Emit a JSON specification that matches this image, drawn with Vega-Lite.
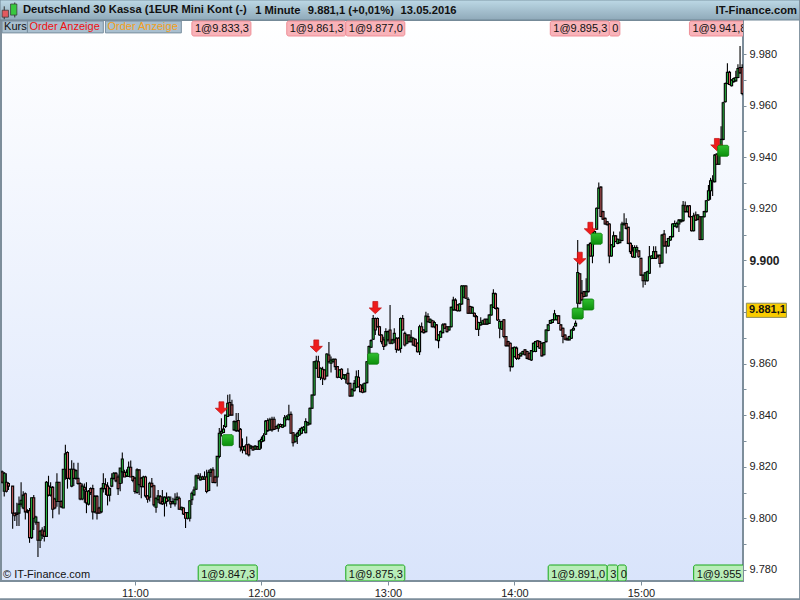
{"$schema":"https://vega.github.io/schema/vega-lite/v6.json","width":742,"height":561,"autosize":"none","padding":{"left":1,"top":20,"right":57,"bottom":19},"background":"#ffffff",
"view":{"stroke":"#7d8e9b","strokeWidth":2,"fill":{"gradient":"linear","x1":0,"y1":0,"x2":0,"y2":1,"stops":[{"offset":0,"color":"#ffffff"},{"offset":1,"color":"#d9e4fb"}]}},
"title":{"text":"Deutschland 30 Kassa (1EUR Mini Kont (-)","anchor":"start","frame":"group","dx":22,"dy":16,"offset":0,"zindex":1,"font":"Liberation Sans","fontSize":11.2,"fontWeight":"bold","color":"#111111"},
"config":{"font":"Liberation Sans"},
"encoding":{"x":{"field":"t","type":"temporal","title":null,"scale":{"type":"utc","nice":false,"padding":0,"domain":[{"year":1900,"month":1,"date":1,"hours":9,"minutes":56,"seconds":28,"utc":true},{"year":1900,"month":1,"date":1,"hours":15,"minutes":48,"seconds":24,"utc":true}]},"axis":{"values":[{"year":1900,"month":1,"date":1,"hours":11,"utc":true},{"year":1900,"month":1,"date":1,"hours":12,"utc":true},{"year":1900,"month":1,"date":1,"hours":13,"utc":true},{"year":1900,"month":1,"date":1,"hours":14,"utc":true},{"year":1900,"month":1,"date":1,"hours":15,"utc":true}],"labelExpr":"utcFormat(datum.value, '%H:%M')","grid":false,"domain":false,"tickColor":"#7d8e9b","tickSize":4,"labelFontSize":11,"labelColor":"#222222","labelPadding":2,"labelFont":"Liberation Sans"}},
"y":{"field":"p","type":"quantitative","title":null,"scale":{"domain":[9775.7,9993.2],"zero":false,"nice":false},"axis":{"orient":"right","values":[9780,9790,9800,9810,9820,9830,9840,9850,9860,9870,9880,9890,9900,9910,9920,9930,9940,9950,9960,9970,9980],"labelExpr":"datum.value % 20 == 0 && datum.value != 9880 ? replace(format(datum.value, ',d'), ',', '.') : ''","grid":false,"domain":false,"tickColor":"#7d8e9b","tickSize":3,"labelPadding":3,"labelColor":"#222222","labelFont":"Liberation Sans","labelFontSize":{"condition":{"test":"datum.value == 9900","value":12},"value":11},"labelFontWeight":{"condition":{"test":"datum.value == 9900","value":"bold"},"value":"normal"}}}},
"datasets":{"candles":[
{"t":"09:57","o":9818,"h":9818.5,"l":9813.5,"c":9814},{"t":"09:58","o":9810.5,"h":9818,"l":9808.5,"c":9817.5},{"t":"09:59","o":9814,"h":9817.5,"l":9810,"c":9810.5},{"t":"10:00","o":9813.5,"h":9814,"l":9811,"c":9812.5},{"t":"10:02","o":9812.5,"h":9812.5,"l":9796,"c":9802},{"t":"10:03","o":9802,"h":9802,"l":9799,"c":9801},{"t":"10:04","o":9802,"h":9806,"l":9797,"c":9801.5},{"t":"10:05","o":9802,"h":9808.5,"l":9797,"c":9805.5},{"t":"10:06","o":9805.5,"h":9814,"l":9804.5,"c":9807},{"t":"10:07","o":9804,"h":9810.5,"l":9803.5,"c":9809},{"t":"10:08","o":9809.5,"h":9810,"l":9799.5,"c":9802.5},{"t":"10:09","o":9803,"h":9803.5,"l":9802,"c":9802.5},{"t":"10:10","o":9803,"h":9804,"l":9790.5,"c":9792.5},{"t":"10:11","o":9792.5,"h":9808,"l":9792,"c":9808},{"t":"10:12","o":9808,"h":9809,"l":9795.5,"c":9800},{"t":"10:13","o":9798.5,"h":9801,"l":9797.5,"c":9800.5},{"t":"10:14","o":9798.5,"h":9798.5,"l":9785,"c":9791.5},{"t":"10:15","o":9791.5,"h":9795.5,"l":9788.5,"c":9795},{"t":"10:16","o":9795.5,"h":9796.5,"l":9792,"c":9793.5},{"t":"10:17","o":9795,"h":9797,"l":9791,"c":9793},{"t":"10:18","o":9793,"h":9814.5,"l":9793,"c":9814},{"t":"10:19","o":9812.5,"h":9816.5,"l":9808.5,"c":9809},{"t":"10:20","o":9809,"h":9814,"l":9808.5,"c":9812},{"t":"10:21","o":9812,"h":9812.5,"l":9800,"c":9803.5},{"t":"10:22","o":9807.5,"h":9808,"l":9803.5,"c":9804},{"t":"10:23","o":9806.5,"h":9817.5,"l":9804.5,"c":9814},{"t":"10:24","o":9814,"h":9814,"l":9801.5,"c":9806.5},{"t":"10:25","o":9806.5,"h":9807,"l":9804,"c":9804.5},{"t":"10:26","o":9804,"h":9819,"l":9804,"c":9819},{"t":"10:27","o":9819,"h":9828.5,"l":9815,"c":9825},{"t":"10:28","o":9825.5,"h":9826,"l":9811.5,"c":9815.5},{"t":"10:29","o":9819,"h":9819,"l":9815,"c":9815.5},{"t":"10:30","o":9812.5,"h":9822.5,"l":9812,"c":9819},{"t":"10:31","o":9819,"h":9821.5,"l":9812.5,"c":9815.5},{"t":"10:32","o":9815.5,"h":9819,"l":9815,"c":9818.5},{"t":"10:33","o":9815.5,"h":9821.5,"l":9813,"c":9813.5},{"t":"10:34","o":9813.5,"h":9814,"l":9807,"c":9807.5},{"t":"10:35","o":9807.5,"h":9813.5,"l":9807,"c":9812.5},{"t":"10:36","o":9812,"h":9813.5,"l":9806,"c":9811},{"t":"10:37","o":9810.5,"h":9814,"l":9802,"c":9806},{"t":"10:38","o":9805.5,"h":9811,"l":9805,"c":9810.5},{"t":"10:39","o":9811.5,"h":9812,"l":9809,"c":9810},{"t":"10:40","o":9811.5,"h":9813,"l":9799.5,"c":9802.5},{"t":"10:41","o":9802.5,"h":9809,"l":9802,"c":9808.5},{"t":"10:42","o":9808.5,"h":9809,"l":9799.5,"c":9802},{"t":"10:43","o":9804,"h":9804.5,"l":9802,"c":9802},{"t":"10:44","o":9802.5,"h":9812,"l":9802,"c":9811.5},{"t":"10:45","o":9811.5,"h":9817.5,"l":9810,"c":9813.5},{"t":"10:46","o":9813,"h":9815.5,"l":9809,"c":9811.5},{"t":"10:47","o":9812.5,"h":9814,"l":9805,"c":9809},{"t":"10:48","o":9809,"h":9812,"l":9806.5,"c":9811.5},{"t":"10:49","o":9812.5,"h":9817.5,"l":9812,"c":9815.5},{"t":"10:50","o":9815.5,"h":9818,"l":9815,"c":9817.5},{"t":"10:51","o":9817.5,"h":9818,"l":9814,"c":9814.5},{"t":"10:52","o":9816,"h":9817,"l":9809,"c":9811.5},{"t":"10:53","o":9813.5,"h":9819.5,"l":9810.5,"c":9819.5},{"t":"10:54","o":9818,"h":9825.5,"l":9813.5,"c":9823},
{"t":"10:55","o":9817.8,"h":9818.8,"l":9816,"c":9816},{"t":"10:56","o":9816.5,"h":9819,"l":9816,"c":9817.8},{"t":"10:57","o":9816.2,"h":9822,"l":9816,"c":9819.8},{"t":"10:58","o":9819.8,"h":9822.4,"l":9816,"c":9816},{"t":"10:59","o":9816.2,"h":9816.5,"l":9814,"c":9814.7},{"t":"11:00","o":9815.6,"h":9816,"l":9809.5,"c":9810.4},{"t":"11:01","o":9810,"h":9819.4,"l":9809.5,"c":9818.8},{"t":"11:02","o":9818.8,"h":9818.8,"l":9809,"c":9813},{"t":"11:03","o":9815.6,"h":9816,"l":9807.8,"c":9812.3},{"t":"11:04","o":9812.3,"h":9816.5,"l":9812,"c":9816},{"t":"11:05","o":9816,"h":9816.5,"l":9808,"c":9808.7},{"t":"11:06","o":9808.7,"h":9809,"l":9806,"c":9807.4},{"t":"11:07","o":9808.2,"h":9814.2,"l":9806.5,"c":9813.6},{"t":"11:08","o":9813.6,"h":9815.6,"l":9812,"c":9812.3},{"t":"11:09","o":9812.6,"h":9813,"l":9804.5,"c":9805.2},{"t":"11:10","o":9804.3,"h":9808.2,"l":9802.2,"c":9807.8},{"t":"11:11","o":9807.2,"h":9811,"l":9805.9,"c":9808.7},{"t":"11:12","o":9808.4,"h":9809,"l":9805.5,"c":9805.9},{"t":"11:13","o":9806.5,"h":9811,"l":9805.2,"c":9805.6},{"t":"11:14","o":9805.9,"h":9808.5,"l":9800.7,"c":9808.2},{"t":"11:15","o":9807.8,"h":9810,"l":9804.6,"c":9806.5},{"t":"11:16","o":9807,"h":9808.5,"l":9806.5,"c":9808.2},{"t":"11:17","o":9806.5,"h":9808.5,"l":9804,"c":9805.6},{"t":"11:18","o":9805.9,"h":9808,"l":9805.5,"c":9806.5},{"t":"11:19","o":9805.6,"h":9809.7,"l":9804.6,"c":9807.4},{"t":"11:20","o":9807.2,"h":9810,"l":9807,"c":9808.2},{"t":"11:21","o":9807.8,"h":9808.5,"l":9803.3,"c":9803.5},{"t":"11:22","o":9803.5,"h":9804.5,"l":9803,"c":9804.3},{"t":"11:23","o":9804,"h":9804.3,"l":9801.3,"c":9801.7},{"t":"11:24","o":9802.2,"h":9802.2,"l":9796.2,"c":9800},{"t":"11:25","o":9800,"h":9802.4,"l":9799.5,"c":9802.2},{"t":"11:26","o":9800,"h":9807,"l":9798.8,"c":9806.8},{"t":"11:27","o":9807.2,"h":9810.4,"l":9805.2,"c":9809.7},{"t":"11:28","o":9809.1,"h":9812.3,"l":9808.8,"c":9811},{"t":"11:29","o":9811.3,"h":9817,"l":9811,"c":9816.5},{"t":"11:30","o":9816.5,"h":9817.5,"l":9815.3,"c":9815.6},{"t":"11:31","o":9814.9,"h":9817.5,"l":9814.7,"c":9816},{"t":"11:32","o":9816,"h":9816.5,"l":9815,"c":9815.2},{"t":"11:33","o":9815.2,"h":9818.2,"l":9815,"c":9816},{"t":"11:34","o":9816,"h":9818.8,"l":9809.7,"c":9810.4},{"t":"11:35","o":9810.8,"h":9818.8,"l":9810.5,"c":9817.8},{"t":"11:36","o":9817.8,"h":9819.4,"l":9816,"c":9818.8},{"t":"11:37","o":9818.8,"h":9819.8,"l":9813.6,"c":9813.9},{"t":"11:38","o":9816,"h":9816.5,"l":9813.5,"c":9813.9},{"t":"11:39","o":9816,"h":9824.2,"l":9812.3,"c":9824},{"t":"11:40","o":9824,"h":9835,"l":9823.3,"c":9833},{"t":"11:41","o":9833,"h":9838.8,"l":9831.7,"c":9833.7},{"t":"11:42","o":9833.3,"h":9836.2,"l":9833,"c":9834.6},{"t":"11:43","o":9835.6,"h":9840,"l":9835,"c":9840},{"t":"11:44","o":9839.5,"h":9847.9,"l":9839.5,"c":9844.6},{"t":"11:45","o":9844.9,"h":9848.1,"l":9840,"c":9840},{"t":"11:46","o":9844,"h":9846,"l":9840,"c":9840},{"t":"11:47","o":9834.3,"h":9838,"l":9834,"c":9837.5},{"t":"11:48","o":9834,"h":9840.8,"l":9833.5,"c":9837.5},{"t":"11:49","o":9837.9,"h":9840.8,"l":9833.5,"c":9834},{"t":"11:50","o":9834.5,"h":9835,"l":9825.9,"c":9827.6},{"t":"11:51","o":9827.8,"h":9831,"l":9825.2,"c":9826.5},{"t":"11:52","o":9826.5,"h":9828.2,"l":9826,"c":9827.8},{"t":"11:53","o":9828.5,"h":9831.7,"l":9825,"c":9825},{"t":"11:54","o":9828.5,"h":9829,"l":9824,"c":9824.6},
{"t":"11:55","o":9827.2,"h":9828.4,"l":9827,"c":9828},{"t":"11:56","o":9827.7,"h":9828,"l":9826.2,"c":9826.5},{"t":"11:57","o":9826.8,"h":9828.3,"l":9826.5,"c":9828},{"t":"11:58","o":9827.8,"h":9828,"l":9826.5,"c":9826.8},{"t":"11:59","o":9826.8,"h":9830.4,"l":9826.5,"c":9830},{"t":"12:00","o":9829.7,"h":9831.7,"l":9827,"c":9830.6},{"t":"12:01","o":9830.1,"h":9833,"l":9829.7,"c":9832},{"t":"12:02","o":9832.6,"h":9838.1,"l":9832.3,"c":9837.7},{"t":"12:03","o":9837.9,"h":9838.8,"l":9833.5,"c":9834},{"t":"12:04","o":9834.3,"h":9839,"l":9834,"c":9838.2},{"t":"12:05","o":9838.4,"h":9839.4,"l":9833.6,"c":9834.3},{"t":"12:06","o":9838.4,"h":9839.4,"l":9834.2,"c":9834.5},{"t":"12:07","o":9835.6,"h":9836,"l":9834.5,"c":9834.9},{"t":"12:08","o":9834.9,"h":9836.8,"l":9833.6,"c":9836.2},{"t":"12:09","o":9836.4,"h":9836.8,"l":9835.3,"c":9835.6},{"t":"12:10","o":9835.3,"h":9836.5,"l":9835,"c":9836.2},{"t":"12:11","o":9835.8,"h":9840.1,"l":9835.5,"c":9839},{"t":"12:12","o":9838.4,"h":9840.1,"l":9837.9,"c":9839.4},{"t":"12:13","o":9838.4,"h":9844,"l":9837.9,"c":9840.1},{"t":"12:14","o":9840.3,"h":9841.4,"l":9832.8,"c":9833},{"t":"12:15","o":9833.2,"h":9833.5,"l":9827.8,"c":9829.3},{"t":"12:16","o":9829.7,"h":9832.6,"l":9829.4,"c":9832.3},{"t":"12:17","o":9831.7,"h":9833.6,"l":9828.8,"c":9833},{"t":"12:18","o":9832.3,"h":9834.9,"l":9832,"c":9834},{"t":"12:19","o":9833,"h":9835.5,"l":9832.6,"c":9834.9},{"t":"12:20","o":9834.3,"h":9835.8,"l":9834,"c":9835.3},{"t":"12:21","o":9833.2,"h":9838.8,"l":9833,"c":9837.5},{"t":"12:22","o":9836.2,"h":9837.4,"l":9836,"c":9837.1},{"t":"12:23","o":9836.6,"h":9843,"l":9836.3,"c":9842.7},{"t":"12:24","o":9842.7,"h":9848,"l":9842.4,"c":9847.8},{"t":"12:25","o":9847.8,"h":9861,"l":9847.5,"c":9860.7},{"t":"12:26","o":9858.2,"h":9863,"l":9858,"c":9861},{"t":"12:27","o":9860.7,"h":9863,"l":9854.4,"c":9854.7},{"t":"12:28","o":9854.7,"h":9858.5,"l":9853.6,"c":9858.2},{"t":"12:29","o":9857.8,"h":9858.8,"l":9851.7,"c":9854.3},{"t":"12:30","o":9857.5,"h":9857.8,"l":9853.5,"c":9854},{"t":"12:31","o":9855.2,"h":9864,"l":9855,"c":9863.7},{"t":"12:32","o":9863.3,"h":9868.4,"l":9860,"c":9860.7},{"t":"12:33","o":9860.1,"h":9862.7,"l":9856.5,"c":9861.4},{"t":"12:34","o":9860.7,"h":9862,"l":9860.4,"c":9861.7},{"t":"12:35","o":9861.7,"h":9862,"l":9857.5,"c":9858.8},{"t":"12:36","o":9858.8,"h":9859,"l":9854.3,"c":9854.7},{"t":"12:37","o":9854.7,"h":9857.8,"l":9854.4,"c":9857.5},{"t":"12:38","o":9857.8,"h":9858.2,"l":9853.6,"c":9854.3},{"t":"12:39","o":9854.3,"h":9856,"l":9854,"c":9855.6},{"t":"12:40","o":9853.9,"h":9856,"l":9852.3,"c":9855.6},{"t":"12:41","o":9856.2,"h":9858.2,"l":9851.7,"c":9852.3},{"t":"12:42","o":9852.3,"h":9852.6,"l":9847,"c":9847.4},{"t":"12:43","o":9847.4,"h":9850.4,"l":9847.2,"c":9850},{"t":"12:44","o":9849.5,"h":9853.6,"l":9849.2,"c":9852.3},{"t":"12:45","o":9850.8,"h":9857.3,"l":9850.4,"c":9854.9},{"t":"12:46","o":9854.7,"h":9857.5,"l":9850.7,"c":9851},{"t":"12:47","o":9851.7,"h":9852,"l":9848.9,"c":9849.1},{"t":"12:48","o":9850.4,"h":9852.3,"l":9848.5,"c":9848.9},{"t":"12:49","o":9849.1,"h":9852.6,"l":9848.8,"c":9852.3},{"t":"12:50","o":9852.6,"h":9861,"l":9852.3,"c":9860.7},{"t":"12:51","o":9860.7,"h":9867,"l":9860.4,"c":9866.6},{"t":"12:52","o":9866.3,"h":9869.4,"l":9866,"c":9868.9},{"t":"12:53","o":9869.4,"h":9878.8,"l":9869.1,"c":9877.5},
{"t":"12:54","o":9877.5,"h":9877.9,"l":9871.1,"c":9873},{"t":"12:55","o":9877.5,"h":9877.9,"l":9874,"c":9874.3},{"t":"12:56","o":9874.3,"h":9874.6,"l":9870.8,"c":9871.1},{"t":"12:57","o":9871.1,"h":9871.4,"l":9867.5,"c":9868.5},{"t":"12:58","o":9869.2,"h":9870.4,"l":9865.3,"c":9866.6},{"t":"12:59","o":9867.2,"h":9873.7,"l":9866.6,"c":9872.4},{"t":"13:00","o":9869.2,"h":9872.8,"l":9868.5,"c":9872.4},{"t":"13:01","o":9873,"h":9882.7,"l":9867.5,"c":9867.9},{"t":"13:02","o":9867.9,"h":9869.6,"l":9867.5,"c":9869.2},{"t":"13:03","o":9869.2,"h":9873.7,"l":9867.9,"c":9871.7},{"t":"13:04","o":9869.8,"h":9870.2,"l":9864.2,"c":9865.5},{"t":"13:05","o":9869.8,"h":9870.2,"l":9865,"c":9865.3},{"t":"13:06","o":9865.9,"h":9877.9,"l":9864.2,"c":9877.5},{"t":"13:07","o":9877.5,"h":9878.8,"l":9872.8,"c":9873},{"t":"13:08","o":9871.7,"h":9872.4,"l":9866.6,"c":9867.2},{"t":"13:09","o":9867.9,"h":9871.4,"l":9867.5,"c":9871.1},{"t":"13:10","o":9871.1,"h":9871.4,"l":9868.2,"c":9868.5},{"t":"13:11","o":9868.5,"h":9873,"l":9868.2,"c":9870.2},{"t":"13:12","o":9869.8,"h":9870.2,"l":9866.9,"c":9867.2},{"t":"13:13","o":9869.4,"h":9869.7,"l":9866.5,"c":9866.8},{"t":"13:14","o":9867.9,"h":9868.2,"l":9864.3,"c":9864.6},{"t":"13:15","o":9864.6,"h":9875,"l":9863.3,"c":9874.3},{"t":"13:16","o":9874.3,"h":9875.9,"l":9872,"c":9872.4},{"t":"13:17","o":9873,"h":9873.3,"l":9871.7,"c":9872},{"t":"13:18","o":9872.4,"h":9880.1,"l":9872,"c":9878.4},{"t":"13:19","o":9878.2,"h":9879.5,"l":9875.9,"c":9876.2},{"t":"13:20","o":9875.9,"h":9877.5,"l":9875.6,"c":9877.2},{"t":"13:21","o":9876.6,"h":9877,"l":9874,"c":9874.3},{"t":"13:22","o":9874.3,"h":9876.6,"l":9873.7,"c":9875.9},{"t":"13:23","o":9875,"h":9875.3,"l":9869,"c":9869.2},{"t":"13:24","o":9868.9,"h":9871.4,"l":9865.9,"c":9871.1},{"t":"13:25","o":9870.2,"h":9872.8,"l":9870,"c":9872.4},{"t":"13:26","o":9872,"h":9875.6,"l":9871.7,"c":9875},{"t":"13:27","o":9875.3,"h":9875.6,"l":9873.4,"c":9873.7},{"t":"13:28","o":9874.3,"h":9874.6,"l":9872,"c":9872.4},{"t":"13:29","o":9873,"h":9874.6,"l":9872.7,"c":9874.3},{"t":"13:30","o":9874.3,"h":9882.1,"l":9874,"c":9881.8},{"t":"13:31","o":9880.8,"h":9885.9,"l":9880.5,"c":9884.6},{"t":"13:32","o":9884.6,"h":9885.3,"l":9880.5,"c":9880.8},{"t":"13:33","o":9882.7,"h":9883,"l":9880.2,"c":9880.5},{"t":"13:34","o":9880.5,"h":9883.4,"l":9880.2,"c":9883.1},{"t":"13:35","o":9883.1,"h":9890.5,"l":9882.7,"c":9890.1},{"t":"13:36","o":9885.7,"h":9890.5,"l":9885.3,"c":9890.1},{"t":"13:37","o":9890.1,"h":9890.5,"l":9885,"c":9885.3},{"t":"13:38","o":9884.9,"h":9885.7,"l":9879.2,"c":9879.5},{"t":"13:39","o":9882.1,"h":9882.4,"l":9879.2,"c":9879.5},{"t":"13:40","o":9879.5,"h":9882.1,"l":9879.2,"c":9881.8},{"t":"13:41","o":9879.5,"h":9879.8,"l":9878,"c":9878.4},{"t":"13:42","o":9878.2,"h":9878.8,"l":9873,"c":9873.3},{"t":"13:43","o":9873.3,"h":9876.2,"l":9870.7,"c":9875.9},{"t":"13:44","o":9875,"h":9878,"l":9874.7,"c":9875.9},{"t":"13:45","o":9875.3,"h":9877,"l":9875,"c":9876.6},{"t":"13:46","o":9877.2,"h":9877.5,"l":9875,"c":9875.3},{"t":"13:47","o":9875.3,"h":9877.5,"l":9875,"c":9877.2},{"t":"13:48","o":9875.6,"h":9879.2,"l":9875.3,"c":9878.8},{"t":"13:49","o":9878.8,"h":9883,"l":9878.5,"c":9882.7},{"t":"13:50","o":9881.8,"h":9888.8,"l":9881.5,"c":9887.2},{"t":"13:51","o":9887,"h":9887.5,"l":9881,"c":9881.4},{"t":"13:52","o":9881.4,"h":9881.8,"l":9876.5,"c":9876.9},
{"t":"13:53","o":9873.7,"h":9877.2,"l":9869.8,"c":9876.3},{"t":"13:54","o":9873.3,"h":9876.6,"l":9873,"c":9876.3},{"t":"13:55","o":9877,"h":9877.3,"l":9869.8,"c":9870.5},{"t":"13:56","o":9870.5,"h":9870.7,"l":9866.5,"c":9866.9},{"t":"13:57","o":9868.5,"h":9868.8,"l":9866.5,"c":9866.9},{"t":"13:58","o":9867.9,"h":9868.2,"l":9856.9,"c":9858.8},{"t":"13:59","o":9858.8,"h":9866.3,"l":9858.5,"c":9866},{"t":"14:00","o":9862.7,"h":9866.6,"l":9862.4,"c":9866.3},{"t":"14:01","o":9866,"h":9866.6,"l":9861.4,"c":9862},{"t":"14:02","o":9863.4,"h":9863.7,"l":9861.5,"c":9862},{"t":"14:03","o":9863,"h":9864.3,"l":9862.7,"c":9864},{"t":"14:04","o":9863.7,"h":9865,"l":9863.4,"c":9864.7},{"t":"14:05","o":9865.3,"h":9865.6,"l":9863.1,"c":9863.4},{"t":"14:06","o":9864.7,"h":9865,"l":9861.7,"c":9862},{"t":"14:07","o":9864,"h":9864.3,"l":9861.4,"c":9861.7},{"t":"14:08","o":9861.4,"h":9865.3,"l":9861,"c":9865},{"t":"14:09","o":9864.7,"h":9868.2,"l":9864.4,"c":9867.9},{"t":"14:10","o":9864.7,"h":9868.8,"l":9864.4,"c":9868.5},{"t":"14:11","o":9868.8,"h":9869,"l":9866.3,"c":9866.6},{"t":"14:12","o":9868.5,"h":9868.8,"l":9865.7,"c":9866},{"t":"14:13","o":9867.9,"h":9868.2,"l":9862.7,"c":9863},{"t":"14:14","o":9863.4,"h":9868.4,"l":9863.1,"c":9868.1},{"t":"14:15","o":9868.5,"h":9873.3,"l":9868.2,"c":9873},{"t":"14:16","o":9872.8,"h":9875.3,"l":9872.5,"c":9875},{"t":"14:17","o":9875.6,"h":9877,"l":9875.3,"c":9876.7},{"t":"14:18","o":9875.9,"h":9877.3,"l":9875.6,"c":9877},{"t":"14:19","o":9877,"h":9880.8,"l":9876.7,"c":9879.3},{"t":"14:20","o":9877,"h":9878.8,"l":9876.7,"c":9878.5},{"t":"14:21","o":9878.5,"h":9878.8,"l":9875.3,"c":9875.6},{"t":"14:22","o":9875,"h":9875.3,"l":9872.7,"c":9873},{"t":"14:23","o":9873.7,"h":9874,"l":9867.9,"c":9870.5},{"t":"14:24","o":9871.1,"h":9871.4,"l":9869,"c":9869.4},{"t":"14:25","o":9869.8,"h":9870,"l":9869,"c":9869.2},{"t":"14:26","o":9869.2,"h":9870.8,"l":9869,"c":9870.5},{"t":"14:27","o":9869.8,"h":9873.3,"l":9869.5,"c":9873},{"t":"14:28","o":9873,"h":9874.6,"l":9872.7,"c":9873.7},{"t":"14:29","o":9874.6,"h":9876.7,"l":9874.4,"c":9875.6},{"t":"14:30","o":9883.4,"h":9907.9,"l":9881.5,"c":9895.3},{"t":"14:31","o":9894.8,"h":9895,"l":9883,"c":9883.4},{"t":"14:32","o":9887.3,"h":9892.4,"l":9884.4,"c":9884.7},{"t":"14:33","o":9887.9,"h":9888.2,"l":9885.7,"c":9886},{"t":"14:34","o":9886.2,"h":9893.1,"l":9886,"c":9887.9},{"t":"14:35","o":9887.9,"h":9906.3,"l":9887.6,"c":9906},{"t":"14:36","o":9906.6,"h":9907,"l":9901.4,"c":9901.7},{"t":"14:37","o":9901.7,"h":9913.1,"l":9898.9,"c":9906.6},{"t":"14:38","o":9906.6,"h":9911.5,"l":9906.3,"c":9911.2},{"t":"14:39","o":9912.1,"h":9920.5,"l":9911.8,"c":9920.2},{"t":"14:40","o":9920.2,"h":9930.2,"l":9920,"c":9928},{"t":"14:41","o":9928.4,"h":9928.7,"l":9916.7,"c":9917},{"t":"14:42","o":9918.9,"h":9919.2,"l":9915.7,"c":9916},{"t":"14:43","o":9916.3,"h":9916.6,"l":9913.8,"c":9914.1},{"t":"14:44","o":9915,"h":9915.3,"l":9913.5,"c":9913.8},{"t":"14:45","o":9914.1,"h":9914.4,"l":9898.9,"c":9901.7},{"t":"14:46","o":9901.7,"h":9906.3,"l":9901.4,"c":9906},{"t":"14:47","o":9905.4,"h":9911.2,"l":9905,"c":9909.5},{"t":"14:48","o":9909.5,"h":9909.8,"l":9907,"c":9907.3},{"t":"14:49","o":9906.6,"h":9908.5,"l":9906.3,"c":9908.2},{"t":"14:50","o":9906.9,"h":9911.2,"l":9906.6,"c":9907.9},{"t":"14:51","o":9907.7,"h":9915,"l":9907.4,"c":9914.1},{"t":"14:52","o":9913.8,"h":9918.3,"l":9913.5,"c":9914.4},
{"t":"14:53","o":9914.3,"h":9916.3,"l":9912,"c":9912.4},{"t":"14:54","o":9912.8,"h":9913,"l":9906.3,"c":9906.6},{"t":"14:55","o":9906.6,"h":9906.9,"l":9902.5,"c":9903.4},{"t":"14:56","o":9903.7,"h":9906,"l":9901,"c":9901.4},{"t":"14:57","o":9901.2,"h":9905.9,"l":9900.9,"c":9905},{"t":"14:58","o":9904,"h":9905.9,"l":9903,"c":9905},{"t":"14:59","o":9903.7,"h":9904,"l":9901,"c":9901.4},{"t":"15:00","o":9900.8,"h":9901,"l":9894,"c":9894.3},{"t":"15:01","o":9894.3,"h":9894.5,"l":9889.5,"c":9892.1},{"t":"15:02","o":9892.1,"h":9895.5,"l":9890.5,"c":9895.2},{"t":"15:03","o":9892.1,"h":9896,"l":9891.8,"c":9895.6},{"t":"15:04","o":9895,"h":9905.6,"l":9894.7,"c":9901.4},{"t":"15:05","o":9900.8,"h":9902,"l":9900.5,"c":9901.7},{"t":"15:06","o":9900.8,"h":9905.5,"l":9900.5,"c":9903.4},{"t":"15:07","o":9903.4,"h":9905.5,"l":9900.5,"c":9900.8},{"t":"15:08","o":9901.4,"h":9902.3,"l":9901,"c":9902},{"t":"15:09","o":9902,"h":9902.3,"l":9897.2,"c":9898.8},{"t":"15:10","o":9899,"h":9910.2,"l":9898.7,"c":9909.8},{"t":"15:11","o":9910.2,"h":9911.8,"l":9905.3,"c":9905.6},{"t":"15:12","o":9907.2,"h":9907.5,"l":9902.7,"c":9905.6},{"t":"15:13","o":9905.6,"h":9908.8,"l":9905.3,"c":9908.5},{"t":"15:14","o":9907.9,"h":9909.5,"l":9907.6,"c":9909.2},{"t":"15:15","o":9909.2,"h":9914.4,"l":9908.9,"c":9914.1},{"t":"15:16","o":9913.3,"h":9915.5,"l":9913,"c":9914.3},{"t":"15:17","o":9913,"h":9915,"l":9912.5,"c":9914.3},{"t":"15:18","o":9914.1,"h":9916,"l":9911,"c":9915.6},{"t":"15:19","o":9915,"h":9916,"l":9914.7,"c":9915.6},{"t":"15:20","o":9915.4,"h":9923,"l":9915,"c":9921.4},{"t":"15:21","o":9921.2,"h":9922.8,"l":9918.6,"c":9918.9},{"t":"15:22","o":9918.9,"h":9921.5,"l":9918.6,"c":9920.8},{"t":"15:23","o":9921.2,"h":9921.5,"l":9916.6,"c":9916.9},{"t":"15:24","o":9916.9,"h":9917.2,"l":9911.2,"c":9911.5},{"t":"15:25","o":9911.5,"h":9918.5,"l":9911.2,"c":9917.2},{"t":"15:26","o":9917.6,"h":9919,"l":9915.3,"c":9915.6},{"t":"15:27","o":9915.9,"h":9918,"l":9915.6,"c":9917.6},{"t":"15:28","o":9916.9,"h":9917.2,"l":9907.8,"c":9908.1},{"t":"15:29","o":9908.1,"h":9917.2,"l":9907.8,"c":9916.9},{"t":"15:30","o":9916.9,"h":9919.2,"l":9916.6,"c":9918.9},{"t":"15:31","o":9918.9,"h":9923.4,"l":9918.6,"c":9923.1},{"t":"15:32","o":9923.4,"h":9929.2,"l":9923.1,"c":9927},{"t":"15:33","o":9927,"h":9932,"l":9923.5,"c":9930.9},{"t":"15:34","o":9930.5,"h":9933,"l":9925,"c":9931.1},{"t":"15:35","o":9930.5,"h":9941.2,"l":9930.2,"c":9940.8},{"t":"15:36","o":9941.2,"h":9941.5,"l":9937,"c":9937.3},{"t":"15:37","o":9937.3,"h":9941.2,"l":9937,"c":9940.8},{"t":"15:38","o":9940.8,"h":9952,"l":9940.5,"c":9946.9},{"t":"15:39","o":9946.9,"h":9961.5,"l":9946.6,"c":9961.1},{"t":"15:40","o":9961.5,"h":9969,"l":9961.2,"c":9968.6},{"t":"15:41","o":9968.6,"h":9976.4,"l":9968.3,"c":9972.9},{"t":"15:42","o":9972.9,"h":9973.5,"l":9967.9,"c":9968.2},{"t":"15:43","o":9967.7,"h":9970.2,"l":9967.4,"c":9969.9},{"t":"15:44","o":9969.3,"h":9970.9,"l":9968.9,"c":9970.5},{"t":"15:45","o":9969.6,"h":9973.5,"l":9969.3,"c":9970.9},{"t":"15:46","o":9970.9,"h":9976,"l":9970.6,"c":9974.4},{"t":"15:47","o":9974.8,"h":9983.1,"l":9972.4,"c":9972.7},{"t":"15:48","o":9974.8,"h":9976,"l":9964,"c":9964.7}
],
"sells":[{"t":"11:41","p":9842.8},{"t":"12:26","p":9866.8},{"t":"12:54","p":9881.7},{"t":"14:31","p":9900.8},{"t":"14:36","p":9912.4},{"t":"15:36","p":9944.9}],
"buys":[{"t":"11:44","p":9830.3},{"t":"12:53","p":9861.9},{"t":"14:30","p":9879.4},{"t":"14:35","p":9882.9},{"t":"14:39","p":9908.4},{"t":"15:39","p":9942.5}],
"orders":[
{"t":"11:27","b":"11:55","p":9992.8,"lo":9987,"side":"sell","label":"1@9.833,3"},{"t":"12:12","b":"12:40","p":9992.8,"lo":9987,"side":"sell","label":"1@9.861,3"},{"t":"12:40","b":"13:08","p":9992.8,"lo":9987,"side":"sell","label":"1@9.877,0"},{"t":"14:17","b":"14:45","p":9992.8,"lo":9987,"side":"sell","label":"1@9.895,3"},{"t":"14:45","b":"14:50","p":9992.8,"lo":9987,"side":"sell","label":"0"},{"t":"15:23","b":"15:55","p":9992.8,"lo":9987,"side":"sell","label":"1@9.941,8"},
{"t":"11:30","b":"11:58","p":9781.9,"lo":9775.7,"side":"buy","label":"1@9.847,3"},{"t":"12:40","b":"13:08","p":9781.9,"lo":9775.7,"side":"buy","label":"1@9.875,3"},{"t":"14:16","b":"14:44","p":9781.9,"lo":9775.7,"side":"buy","label":"1@9.891,0"},{"t":"14:44","b":"14:49","p":9781.9,"lo":9775.7,"side":"buy","label":"3"},{"t":"14:49","b":"14:53","p":9781.9,"lo":9775.7,"side":"buy","label":"0"},{"t":"15:25","b":"15:55","p":9781.9,"lo":9775.7,"side":"buy","label":"1@9.955"}],
"buttons":[{"t":"09:57","b":"10:09","p":9992.8,"lo":9988.2,"label":"Kurs","slot":"price"},{"t":"10:09","b":"10:45","p":9992.8,"lo":9988.2,"label":"Order Anzeige","slot":"stop"},{"t":"10:46","b":"11:22","p":9992.8,"lo":9988.2,"label":"Order Anzeige","slot":"limit"}],
"header":[{"t":"11:57","p":9995.5,"label":"1 Minute"},{"t":"12:22","p":9995.5,"label":"9.881,1 (+0,01%)"},{"t":"13:06","p":9995.5,"label":"13.05.2016"}]
},
"layer":[
{"data":{"values":[{"t":"09:56","b":"16:16","p":10001,"lo":9993.2}],"format":{"parse":{"t":"utc:'%H:%M'","b":"utc:'%H:%M'"}}},"mark":{"type":"rect","stroke":"#6f8695","strokeWidth":1,"color":{"gradient":"linear","x1":0,"y1":0,"x2":0,"y2":1,"stops":[{"offset":0,"color":"#bdd9e6"},{"offset":1,"color":"#8fa9b9"}]}},
"encoding":{"x2":{"field":"b"},"y2":{"field":"lo"}}},
{"data":{"values":[{"t":"09:56","b":"16:16","p":9769,"lo":9768.3},{"t":"16:15","b":"16:16","p":10001,"lo":9768.3}],"format":{"parse":{"t":"utc:'%H:%M'","b":"utc:'%H:%M'"}}},"mark":{"type":"rect","fill":"#7d8e9b"},
"encoding":{"x2":{"field":"b"},"y2":{"field":"lo"}}},
{"data":{"values":[{"t":"09:58","p":9998.5,"lo":9993.5},{"t":"10:03","p":10000,"lo":9994.2}],"format":{"parse":{"t":"utc:'%H:%M'"}}},"mark":{"type":"rule","color":"#333333","strokeWidth":1},
"encoding":{"y2":{"field":"lo"}}},
{"data":{"values":[{"t":"09:57","b":"10:00","p":9997,"lo":9994.3,"part":"down"},{"t":"10:01","b":"10:04","p":9999.4,"lo":9995.1,"part":"up"}],"format":{"parse":{"t":"utc:'%H:%M'","b":"utc:'%H:%M'"}}},"mark":{"type":"rect","stroke":"#333333","strokeWidth":0.7},
"encoding":{"x2":{"field":"b"},"y2":{"field":"lo"},"fill":{"condition":{"test":"datum.part == 'down'","value":"#e25a5f"},"value":"#39c83f"}}},
{"data":{"name":"buttons","format":{"parse":{"t":"utc:'%H:%M'","b":"utc:'%H:%M'"}}},"layer":[
{"mark":{"type":"rect","fill":"#a9bfcf","stroke":"#7a8f9f","strokeWidth":1},"encoding":{"x2":{"field":"b"},"y2":{"field":"lo"}}},
{"mark":{"type":"text","align":"left","dx":2,"dy":-2.5,"baseline":"alphabetic","fontSize":11},"encoding":{"y":{"field":"lo","type":"quantitative","title":null},"text":{"field":"label"},"color":{"condition":[{"test":"datum.slot == 'price'","value":"#111111"},{"test":"datum.slot == 'stop'","value":"#ee1111"}],"value":"#f2a020"}}}]},
{"data":{"name":"header","format":{"parse":{"t":"utc:'%H:%M'"}}},"mark":{"type":"text","align":"left","baseline":"alphabetic","fontSize":11.2,"fontWeight":"bold","color":"#111111"},
"encoding":{"text":{"field":"label"}}},
{"data":{"values":[{"t":"16:14","p":9995.5,"label":"IT-Finance.com"}],"format":{"parse":{"t":"utc:'%H:%M'"}}},"mark":{"type":"text","align":"right","baseline":"alphabetic","fontSize":11.2,"fontWeight":"bold","color":"#111111"},
"encoding":{"text":{"field":"label"}}},
{"data":{"values":[{"t":"09:57","p":9778,"label":"© IT-Finance.com"}],"format":{"parse":{"t":"utc:'%H:%M'"}}},"mark":{"type":"text","align":"left","baseline":"middle","fontSize":11,"dx":1,"color":"#111111"},
"encoding":{"text":{"field":"label"}}},
{"data":{"name":"candles","format":{"parse":{"t":"utc:'%H:%M'"}}},"layer":[
{"mark":{"type":"rule","color":"#000000","strokeWidth":1.1,"clip":true},"encoding":{"y":{"field":"h","type":"quantitative","title":null},"y2":{"field":"l"}}},
{"mark":{"type":"bar","size":2,"stroke":"#000000","strokeWidth":1.1,"clip":true},"encoding":{"y":{"field":"o","type":"quantitative","title":null},"y2":{"field":"c"},"color":{"condition":{"test":"datum.c >= datum.o","value":"#2fd14a"},"value":"#ea6d6f"}}}]},
{"data":{"name":"sells","format":{"parse":{"t":"utc:'%H:%M'"}}},"mark":{"type":"point","filled":true,"shape":"M-0.4,-1 L0.4,-1 L0.4,0.05 L1,0.05 L0,1 L-1,0.05 L-0.4,0.05 Z","size":150,"fill":"#ee1c1c","stroke":"#c01010","strokeWidth":0.7,"opacity":1}},
{"data":{"name":"buys","format":{"parse":{"t":"utc:'%H:%M'"}}},"mark":{"type":"point","filled":true,"shape":"M-0.8,-1 L0.8,-1 L1,-0.8 L1,0.8 L0.8,1 L-0.8,1 L-1,0.8 L-1,-0.8 Z","size":121,"stroke":"#0a7d0a","strokeWidth":0.8,"opacity":1,"fill":{"gradient":"linear","x1":0,"y1":0,"x2":0,"y2":1,"stops":[{"offset":0,"color":"#2fbf2f"},{"offset":1,"color":"#0c8f0c"}]}}},
{"data":{"name":"orders","format":{"parse":{"t":"utc:'%H:%M'","b":"utc:'%H:%M'"}}},"layer":[
{"mark":{"type":"rect","cornerRadius":2,"strokeWidth":1,"clip":true},"encoding":{"x2":{"field":"b"},"y2":{"field":"lo"},"fill":{"condition":{"test":"datum.side == 'sell'","value":"#f8b3b9"},"value":"#b8edb8"},"stroke":{"condition":{"test":"datum.side == 'sell'","value":"#ef8f97"},"value":"#18a818"}}},
{"mark":{"type":"text","align":"left","baseline":"alphabetic","dx":3,"dy":-3.5,"fontSize":11,"color":"#111111","clip":true},"encoding":{"y":{"field":"lo","type":"quantitative","title":null},"text":{"field":"label"}}}]},
{"data":{"values":[{"t":"15:50","b":"16:09","p":9883.4,"lo":9877.9}],"format":{"parse":{"t":"utc:'%H:%M'","b":"utc:'%H:%M'"}}},"mark":{"type":"rect","fill":"#f9cc00","stroke":"#8d8d60","strokeWidth":1},
"encoding":{"x2":{"field":"b"},"y2":{"field":"lo"}}},
{"data":{"values":[{"t":"16:00","p":9880.7,"label":"9.881,1"}],"format":{"parse":{"t":"utc:'%H:%M'"}}},"mark":{"type":"text","align":"center","baseline":"middle","fontSize":11,"fontWeight":"bold","color":"#111111"},
"encoding":{"text":{"field":"label"}}}
]}
